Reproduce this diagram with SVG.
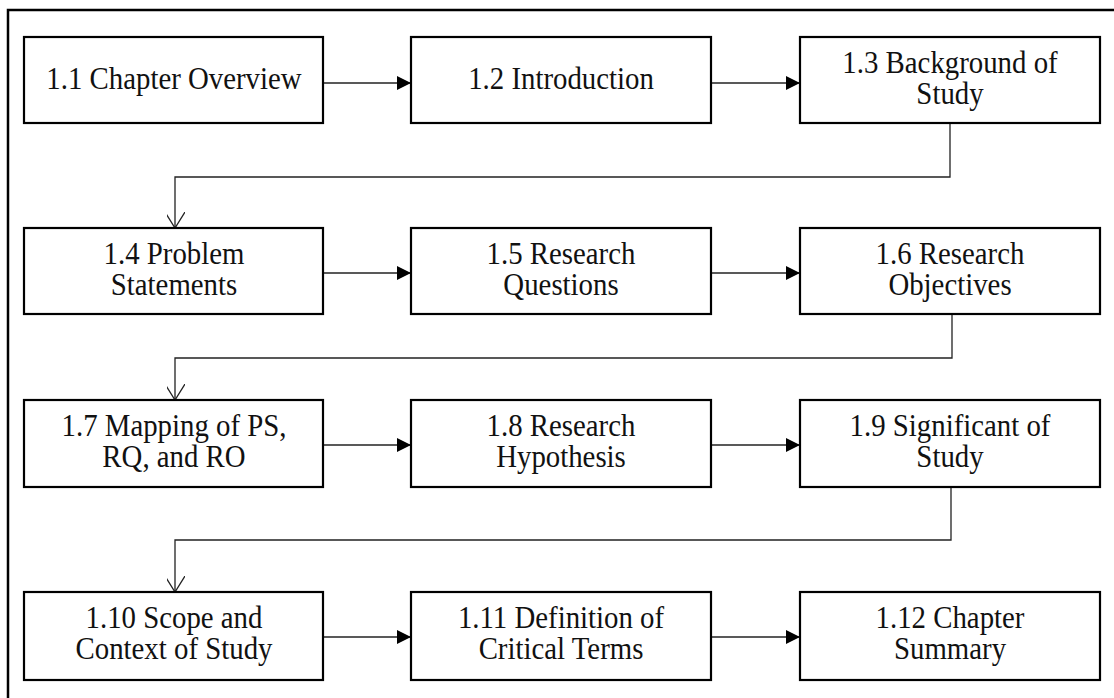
<svg xmlns="http://www.w3.org/2000/svg" width="1114" height="698" viewBox="0 0 1114 698">
<style>
.box{fill:#fff;stroke:#000;stroke-width:2.2}
.t{font-family:"Liberation Serif","Times New Roman",serif;font-size:31px;fill:#111;text-anchor:middle}
.c{fill:none;stroke:#222;stroke-width:1.3}
</style>
<defs>
<marker id="fa" markerWidth="14" markerHeight="14" refX="14" refY="7" orient="auto" markerUnits="userSpaceOnUse"><path d="M0,0 L14,7 L0,14 Z" fill="#000"/></marker>
<marker id="oa" markerWidth="22" markerHeight="18" refX="16" refY="10" orient="auto" markerUnits="userSpaceOnUse"><path d="M0,0 L16,10 L0,20" fill="none" stroke="#222" stroke-width="1.3"/></marker>
</defs>
<rect width="1114" height="698" fill="#fff"/>
<path d="M8,698 V10 H1114" fill="none" stroke="#000" stroke-width="2.5"/>
<g id="connectors">
<line class="c" x1="323" y1="83" x2="411" y2="83" marker-end="url(#fa)"/>
<line class="c" x1="711" y1="83" x2="800" y2="83" marker-end="url(#fa)"/>
<path class="c" d="M950,123 V177 H175 V228" marker-end="url(#oa)"/>
<line class="c" x1="323" y1="273" x2="411" y2="273" marker-end="url(#fa)"/>
<line class="c" x1="711" y1="273" x2="800" y2="273" marker-end="url(#fa)"/>
<path class="c" d="M952,314 V358 H175 V400" marker-end="url(#oa)"/>
<line class="c" x1="323" y1="445" x2="411" y2="445" marker-end="url(#fa)"/>
<line class="c" x1="711" y1="445" x2="800" y2="445" marker-end="url(#fa)"/>
<path class="c" d="M951,487 V540 H175 V592" marker-end="url(#oa)"/>
<line class="c" x1="323" y1="637" x2="411" y2="637" marker-end="url(#fa)"/>
<line class="c" x1="711" y1="637" x2="800" y2="637" marker-end="url(#fa)"/>
</g>
<g id="n1"><rect class="box" x="24" y="37" width="299" height="86"/><text class="t" transform="translate(174,89) scale(0.93,1)">1.1 Chapter Overview</text></g>
<g id="n2"><rect class="box" x="411" y="37" width="300" height="86"/><text class="t" transform="translate(561,89) scale(0.93,1)">1.2 Introduction</text></g>
<g id="n3"><rect class="box" x="800" y="37" width="300" height="86"/><text class="t" transform="translate(950,73) scale(0.93,1)">1.3 Background of</text><text class="t" transform="translate(950,104) scale(0.93,1)">Study</text></g>
<g id="n4"><rect class="box" x="24" y="228" width="299" height="86"/><text class="t" transform="translate(174,264) scale(0.93,1)">1.4 Problem</text><text class="t" transform="translate(174,295) scale(0.93,1)">Statements</text></g>
<g id="n5"><rect class="box" x="411" y="228" width="300" height="86"/><text class="t" transform="translate(561,264) scale(0.93,1)">1.5 Research</text><text class="t" transform="translate(561,295) scale(0.93,1)">Questions</text></g>
<g id="n6"><rect class="box" x="800" y="228" width="300" height="86"/><text class="t" transform="translate(950,264) scale(0.93,1)">1.6 Research</text><text class="t" transform="translate(950,295) scale(0.93,1)">Objectives</text></g>
<g id="n7"><rect class="box" x="24" y="400" width="299" height="87"/><text class="t" transform="translate(174,436) scale(0.93,1)">1.7 Mapping of PS,</text><text class="t" transform="translate(174,467) scale(0.93,1)">RQ, and RO</text></g>
<g id="n8"><rect class="box" x="411" y="400" width="300" height="87"/><text class="t" transform="translate(561,436) scale(0.93,1)">1.8 Research</text><text class="t" transform="translate(561,467) scale(0.93,1)">Hypothesis</text></g>
<g id="n9"><rect class="box" x="800" y="400" width="300" height="87"/><text class="t" transform="translate(950,436) scale(0.93,1)">1.9 Significant of</text><text class="t" transform="translate(950,467) scale(0.93,1)">Study</text></g>
<g id="n10"><rect class="box" x="24" y="592" width="299" height="88"/><text class="t" transform="translate(174,628) scale(0.93,1)">1.10 Scope and</text><text class="t" transform="translate(174,659) scale(0.93,1)">Context of Study</text></g>
<g id="n11"><rect class="box" x="411" y="592" width="300" height="88"/><text class="t" transform="translate(561,628) scale(0.93,1)">1.11 Definition of</text><text class="t" transform="translate(561,659) scale(0.93,1)">Critical Terms</text></g>
<g id="n12"><rect class="box" x="800" y="592" width="300" height="88"/><text class="t" transform="translate(950,628) scale(0.93,1)">1.12 Chapter</text><text class="t" transform="translate(950,659) scale(0.93,1)">Summary</text></g>
</svg>
